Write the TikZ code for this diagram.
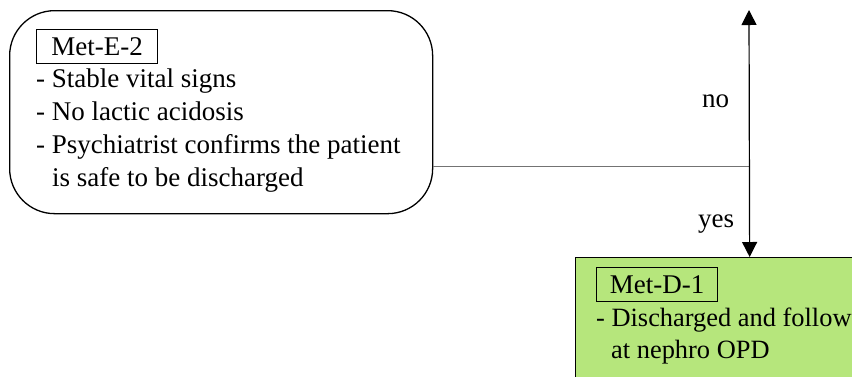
\documentclass[tikz,border=0pt]{standalone}
\usepackage{fontspec}
\setmainfont{Liberation Serif}
\usetikzlibrary{arrows.meta}
\definecolor{boxgreen}{RGB}{182,230,124}
\begin{document}
\begin{tikzpicture}[x=1pt,y=-1pt,
  txt/.style={anchor=base west,inner sep=0pt,font=\fontsize{27pt}{33pt}\selectfont},
  tagbox/.style={draw,line width=1.1pt,anchor=north west,minimum width=121pt,minimum height=34pt,inner sep=0pt,font=\fontsize{27pt}{33pt}\selectfont},
  bigbox/.style={draw,line width=1.3pt,anchor=north west,inner sep=0pt},
  linkline/.style={draw=black!55,line width=1pt},
  flow/.style={line width=1.2pt,{Triangle[length=15pt,width=15pt]}-{Triangle[length=15pt,width=15pt]}}
]
\useasboundingbox (0,0) rectangle (852,376);
\clip (0,0) rectangle (852,376);
\fill[white] (0,0) rectangle (852,376);
% rounded box Met-E-2
\node[bigbox,rounded corners=45pt,minimum width=423pt,minimum height=203pt] (e2) at (9,10) {};
\node[tagbox] (e2tag) at (36,29) {Met-E-2};
\node[txt] (e2l1) at (36,87) {- Stable vital signs};
\node[txt] (e2l2) at (36,120) {- No lactic acidosis};
\node[txt] (e2l3) at (36,153) {- Psychiatrist confirms the patient};
\node[txt] (e2l4) at (52,186) {is safe to be discharged};
% green box Met-D-1
\node[bigbox,fill=boxgreen,minimum width=348pt,minimum height=160pt] (d1) at (575,257) {};
\node[tagbox] (d1tag) at (596,267) {Met-D-1};
\node[txt,font=\fontsize{26.4pt}{33pt}\selectfont] (d1l1) at (596,326) {- Discharged and follow};
\node[txt,font=\fontsize{26.4pt}{33pt}\selectfont] (d1l2) at (611,358) {at nephro OPD};
% connectors
\coordinate (top) at (749,10);
\coordinate (junction) at (749,166);
\draw[linkline] (e2.east |- junction) -- (junction);
\draw[flow] (top) -- (d1.north);
\node[txt] (no) at (702,107) {no};
\node[txt] (yes) at (698,227) {yes};
\end{tikzpicture}
\end{document}
